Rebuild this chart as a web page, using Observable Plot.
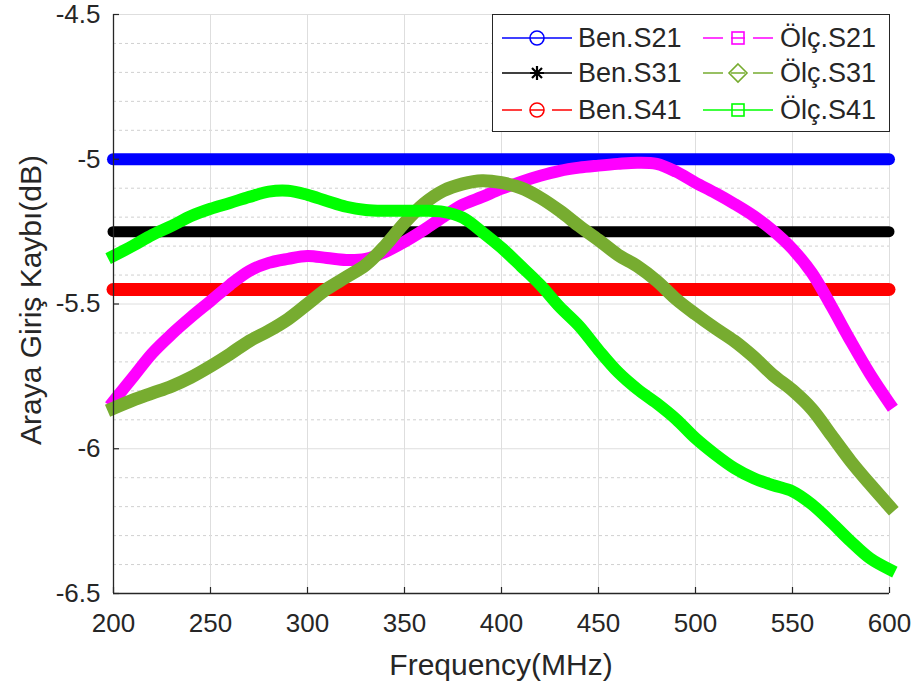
<!DOCTYPE html>
<html><head><meta charset="utf-8">
<script src="https://cdn.jsdelivr.net/npm/d3@7"></script>
<script src="https://cdn.jsdelivr.net/npm/@observablehq/plot@0.6"></script>
<style>
body{margin:0;background:#fff;}
#wrap{position:relative;width:913px;height:682px;font-family:"Liberation Sans",Arial,sans-serif;color:#262626;overflow:hidden;}
.lab{position:absolute;font-size:30px;line-height:1;white-space:nowrap;}
#legend{position:absolute;left:492px;top:14px;}
</style></head><body><div id="wrap"></div>
<script>
const freq = [200,210,220,230,240,250,260,270,280,290,300,310,320,330,340,350,360,370,380,390,400,410,420,430,440,450,460,470,480,490,500,510,520,530,540,550,560,570,580,590,600];
const olcS21 = [-5.836,-5.753,-5.670,-5.604,-5.545,-5.490,-5.434,-5.386,-5.358,-5.344,-5.334,-5.341,-5.348,-5.344,-5.320,-5.285,-5.244,-5.199,-5.157,-5.130,-5.102,-5.078,-5.057,-5.040,-5.029,-5.022,-5.016,-5.012,-5.016,-5.043,-5.081,-5.116,-5.154,-5.196,-5.247,-5.310,-5.393,-5.507,-5.628,-5.742,-5.843];
const olcS31 = [-5.860,-5.832,-5.808,-5.784,-5.753,-5.715,-5.673,-5.628,-5.593,-5.552,-5.500,-5.448,-5.407,-5.365,-5.299,-5.220,-5.154,-5.109,-5.085,-5.074,-5.081,-5.099,-5.133,-5.178,-5.230,-5.279,-5.330,-5.369,-5.420,-5.483,-5.535,-5.583,-5.628,-5.683,-5.746,-5.798,-5.863,-5.953,-6.043,-6.123,-6.199];
const olcS41 = [-5.334,-5.299,-5.261,-5.230,-5.196,-5.171,-5.151,-5.130,-5.112,-5.109,-5.123,-5.144,-5.164,-5.175,-5.178,-5.178,-5.178,-5.182,-5.202,-5.251,-5.306,-5.369,-5.434,-5.510,-5.576,-5.659,-5.735,-5.794,-5.843,-5.898,-5.964,-6.019,-6.067,-6.102,-6.126,-6.147,-6.192,-6.254,-6.320,-6.379,-6.417];
const benS21 = -5.0;
const benS31 = -5.25;
const benS41 = -5.45;
const xTicks = [200,250,300,350,400,450,500,550,600];
const yTicks = [-6.5,-6,-5.5,-5,-4.5];
const yMinor = [-6.4,-6.3,-6.2,-6.1,-5.9,-5.8,-5.7,-5.6,-5.4,-5.3,-5.2,-5.1,-4.9,-4.8,-4.7,-4.6];
const seriesNames = ["Ben.S21","Ben.S31","Ben.S41","Ölç.S21","Ölç.S31","Ölç.S41"];
const seriesColors = ["#0000ff","#000000","#ff0000","#ff00ff","#77ac30","#00ff00"];
const seriesMarkers = ["circle","asterisk","circle","square","diamond","square"];
const seriesDashed = [false,false,true,true,true,false];
const xLabel = "Frequency(MHz)";
const yLabel = "Araya Giriş Kaybı(dB)";

const xDom = [xTicks[0], xTicks[xTicks.length-1]];
const yDom = [yTicks[0], yTicks[yTicks.length-1]];
const x0 = freq[0], x1 = freq[freq.length-1];
const tickLenX = (xDom[1]-xDom[0]) * 6/776;
const tickLenY = (yDom[1]-yDom[0]) * 6/579;
const plot = Plot.plot({
  width: 913, height: 682,
  marginLeft: 113, marginRight: 24, marginTop: 14, marginBottom: 89,
  x: {domain: xDom},
  y: {domain: yDom},
  style: {fontFamily: "'Liberation Sans', Arial, sans-serif", fontSize: "26px", color: "#262626", background: "white", overflow: "visible"},
  marks: [
    Plot.gridY(yMinor, {stroke: "#d0d0d0", strokeOpacity: 1, strokeDasharray: "3,3"}),
    Plot.gridX(xTicks, {stroke: "#dedede", strokeOpacity: 1}),
    Plot.gridY(yTicks, {stroke: "#dedede", strokeOpacity: 1}),
    Plot.ruleY([benS21], {x1: x0, x2: x1, stroke: seriesColors[0], strokeWidth: 12, strokeLinecap: "round"}),
    Plot.ruleY([benS31], {x1: x0, x2: x1, stroke: seriesColors[1], strokeWidth: 11, strokeLinecap: "round"}),
    Plot.ruleY([benS41], {x1: x0, x2: x1, stroke: seriesColors[2], strokeWidth: 13, strokeLinecap: "round"}),
    Plot.lineY(olcS21, {x: freq, stroke: seriesColors[3], strokeWidth: 12, curve: "catmull-rom", strokeLinecap: "square"}),
    Plot.lineY(olcS31, {x: freq, stroke: seriesColors[4], strokeWidth: 13, curve: "catmull-rom", strokeLinecap: "square"}),
    Plot.lineY(olcS41, {x: freq, stroke: seriesColors[5], strokeWidth: 12, curve: "catmull-rom", strokeLinecap: "square"}),
    Plot.ruleX(xTicks, {y1: yDom[0], y2: yDom[0] + tickLenY, stroke: "#262626", strokeWidth: 1.2}),
    Plot.ruleY(yTicks, {x1: xDom[0], x2: xDom[0] + tickLenX, stroke: "#262626", strokeWidth: 1.2}),
    Plot.ruleX([xDom[0]], {stroke: "#262626", strokeWidth: 1.3}),
    Plot.ruleY([yDom[0]], {stroke: "#262626", strokeWidth: 1.3}),
    Plot.axisX(xTicks, {tickSize: 0, tickPadding: 20, label: null, tickFormat: d => String(d)}),
    Plot.axisY(yTicks, {tickSize: 0, tickPadding: 13, label: null, tickFormat: d => String(d)})
  ]
});
const wrap = document.getElementById("wrap");
wrap.appendChild(plot);

const xl = document.createElement("div");
xl.className = "lab"; xl.textContent = xLabel;
xl.style.left = "501px"; xl.style.top = "650px"; xl.style.transform = "translateX(-50%)";
wrap.appendChild(xl);
const yl = document.createElement("div");
yl.className = "lab"; yl.textContent = yLabel;
yl.style.left = "31px"; yl.style.top = "300px"; yl.style.transform = "translate(-50%,-50%) rotate(-90deg)";
wrap.appendChild(yl);

// legend
const lg = d3.create("svg").attr("id","legend").attr("width",398).attr("height",118);
lg.append("rect").attr("x",0.5).attr("y",0.5).attr("width",397).attr("height",117).attr("fill","#fff").attr("stroke","#262626").attr("stroke-width",1);
const rowsY = [24, 59, 96];
seriesNames.forEach((name, i) => {
  const col = Math.floor(i/3), row = i % 3;
  const lx = col ? 211 : 10, y = rowsY[row], mx = lx + 35, c = seriesColors[i];
  const g = lg.append("g");
  g.append("line").attr("x1",lx).attr("x2",lx+70).attr("y1",y).attr("y2",y).attr("stroke",c).attr("stroke-width",1.3)
    .attr("stroke-dasharray", seriesDashed[i] ? "20,8,14,8,20" : null);
  const m = seriesMarkers[i];
  if (m === "circle") g.append("circle").attr("cx",mx).attr("cy",y).attr("r",7).attr("fill","none").attr("stroke",c).attr("stroke-width",1.6);
  else if (m === "square") g.append("rect").attr("x",mx-6).attr("y",y-6).attr("width",12).attr("height",12).attr("fill","none").attr("stroke",c).attr("stroke-width",1.6);
  else if (m === "diamond") g.append("path").attr("d",`M${mx},${y-9}L${mx+9},${y}L${mx},${y+9}L${mx-9},${y}Z`).attr("fill","none").attr("stroke",c).attr("stroke-width",1.6);
  else if (m === "asterisk") g.append("path").attr("d",`M${mx-7},${y}L${mx+7},${y}M${mx},${y-7}L${mx},${y+7}M${mx-5},${y-5}L${mx+5},${y+5}M${mx-5},${y+5}L${mx+5},${y-5}`).attr("stroke",c).attr("stroke-width",2.2);
  g.append("text").attr("x", col ? 288 : 86).attr("y", y).attr("dy","0.35em").attr("font-size",27).attr("fill","#262626")
    .attr("font-family","'Liberation Sans', Arial, sans-serif").text(name);
});
wrap.appendChild(lg.node());
</script></body></html>
